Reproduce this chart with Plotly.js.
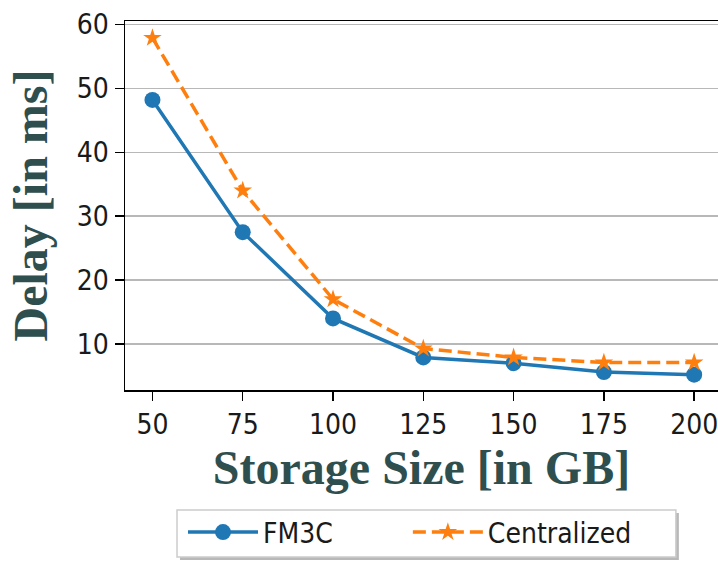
<!DOCTYPE html>
<html>
<head>
<meta charset="utf-8">
<script src="https://cdn.plot.ly/plotly-3.0.1.min.js"></script>
<style>
html,body{margin:0;padding:0;background:#fff;overflow:hidden;}
#chart{width:718px;height:563px;}
</style>
</head>
<body>
<div id="chart"></div>
<script>
const storageSizes = [50, 75, 100, 125, 150, 175, 200];
const fm3cDelay = [48.2, 27.5, 14.0, 7.9, 7.0, 5.6, 5.2];
const centralizedDelay = [57.9, 34.0, 17.0, 9.3, 7.9, 7.1, 7.1];
const xTickVals = [50, 75, 100, 125, 150, 175, 200];
const yTickVals = [10, 20, 30, 40, 50, 60];

const tickFontFamily = 'DejaVu Sans Condensed, DejaVu Sans, sans-serif';

const traces = [
  {
    x: storageSizes, y: fm3cDelay, name: 'FM3C', type: 'scatter', mode: 'lines+markers',
    line: {color: '#1f77b4', width: 3.5},
    marker: {symbol: 'circle', size: 16, color: '#1f77b4'},
    legend: 'legend'
  },
  {
    x: storageSizes, y: centralizedDelay, name: 'Centralized', type: 'scatter', mode: 'lines+markers',
    line: {color: '#ff7f0e', width: 3.5, dash: '13px,6px'},
    marker: {symbol: 'star', size: 14, color: '#ff7f0e'},
    legend: 'legend2'
  }
];

const legendCommon = {
  orientation: 'h', xanchor: 'left', y: -0.318, yanchor: 'top',
  bgcolor: 'rgba(0,0,0,0)', borderwidth: 0,
  font: {family: tickFontFamily, size: 28, color: '#1a1a1a'},
  itemwidth: 70
};

const layout = {
  width: 718, height: 563,
  margin: {l: 125, r: 0, t: 21, b: 173},
  paper_bgcolor: '#fff', plot_bgcolor: '#fff',
  font: {family: tickFontFamily, size: 27, color: '#000'},
  showlegend: true,
  xaxis: {
    range: [42.4, 206.6],
    tickvals: xTickVals,
    ticks: 'outside', ticklen: 9, tickwidth: 1.5, tickcolor: '#000',
    showline: true, linecolor: '#000', linewidth: 1.5, mirror: true,
    showgrid: false, zeroline: false,
    ticklabeloverflow: 'allow',
    tickfont: {family: tickFontFamily, size: 28, color: '#1a1a1a'},
    title: {text: '<b>Storage Size [in GB]</b>', font: {family: 'Liberation Serif, Times New Roman, serif', size: 48, color: '#2F4F4F'}, standoff: 6}
  },
  yaxis: {
    range: [2.8, 60.55],
    tickvals: yTickVals,
    ticks: 'outside', ticklen: 9, tickwidth: 1.5, tickcolor: '#000',
    showline: true, linecolor: '#000', linewidth: 1.5, mirror: false,
    showgrid: true, gridcolor: '#b8b8b8', gridwidth: 1.5, zeroline: false,
    tickfont: {family: tickFontFamily, size: 28, color: '#1a1a1a'},
    title: {text: '<b>Delay [in ms]</b>', font: {family: 'Liberation Serif, Times New Roman, serif', size: 48, color: '#2F4F4F'}, standoff: 14}
  },
  legend: Object.assign({}, legendCommon, {x: 0.0978}),
  legend2: Object.assign({}, legendCommon, {x: 0.477}),
  shapes: [
    {type: 'rect', xref: 'paper', yref: 'paper', x0: 0.0927, x1: 0.934, y0: -0.461, y1: -0.333,
     line: {width: 0}, fillcolor: 'rgba(0,0,0,0.28)', layer: 'above'},
    {type: 'rect', xref: 'paper', yref: 'paper', x0: 0.0877, x1: 0.929, y0: -0.4526, y1: -0.325,
     line: {color: '#cccccc', width: 1.5}, fillcolor: '#ffffff', layer: 'above'}
  ]
};

Plotly.newPlot('chart', traces, layout, {displayModeBar: false, staticPlot: true});
</script>
</body>
</html>
